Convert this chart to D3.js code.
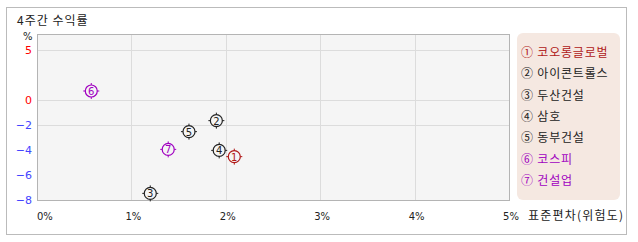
<!DOCTYPE html>
<html><head><meta charset="utf-8">
<script src="https://cdn.jsdelivr.net/npm/d3@7/dist/d3.min.js"></script>
<style>body{margin:0;background:#fff;}svg{display:block;font-family:"DejaVu Sans","Noto Sans CJK KR",sans-serif;}</style>
</head><body><svg id="c" width="638" height="242"></svg>
<script>
const names = ["코오롱글로벌","아이콘트롤스","두산건설","삼호","동부건설","코스피","건설업"];
const symbols = ["①","②","③","④","⑤","⑥","⑦"];
const risk = [2.09, 1.90, 1.20, 1.93, 1.61, 0.575, 1.39];   // 표준편차 %
const ret = [-4.53, -1.65, -7.47, -4.03, -2.53, 0.9, -3.95]; // 4주간 수익률 %
const colors = ["#b01818","#222222","#222222","#222222","#222222","#a000c0","#a000c0"];
const xTicks = [0,1,2,3,4,5];
const yTicks = [5,0,-2,-4,-6,-8];
const yGrid = [5,0,-2];

const svg = d3.select("#c");
const L=37,R=509,T=34,B=200;
const x = d3.scaleLinear().domain([0,5]).range([L,R]);
const y = d3.scaleLinear().domain([-8,0,6.6]).range([B,100,T]);
const font = '"Noto Sans CJK KR",sans-serif';

svg.append("rect").attr("x",6.5).attr("y",7.5).attr("width",620).attr("height",227).attr("fill","#fff").attr("stroke","#bbb");
svg.append("text").attr("x",17).attr("y",25).attr("font-size",12).attr("letter-spacing",1).attr("font-family",font).attr("fill","#222").text("4주간 수익률");

svg.append("rect").attr("x",L).attr("y",T).attr("width",R-L).attr("height",B-T).attr("fill","#f5f5f5");
const g = svg.append("g");
g.selectAll("line.v").data(xTicks.slice(1,-1)).join("line").attr("x1",d=>Math.round(x(d))+0.5).attr("x2",d=>Math.round(x(d))+0.5).attr("y1",T).attr("y2",B).attr("stroke","#dcdcdc");
g.selectAll("line.h").data(yGrid).join("line").attr("y1",d=>Math.round(y(d))+0.5).attr("y2",d=>Math.round(y(d))+0.5).attr("x1",L).attr("x2",R).attr("stroke","#dcdcdc");
svg.append("rect").attr("x",L+0.5).attr("y",T+0.5).attr("width",R-L).attr("height",B-T).attr("fill","none").attr("stroke","#b4b4b4");

svg.append("text").attr("x",23).attr("y",40).attr("font-size",10).attr("fill","#222").text("%");
svg.selectAll("text.yt").data(yTicks).join("text").attr("x",32).attr("y",d=>y(d)+4).attr("text-anchor","end")
  .attr("font-size",11).attr("fill",d=>d>=0?"#ff0000":"#4444ff").text(d=>d<0?"−"+Math.abs(d):d);
svg.selectAll("text.xt").data(xTicks).join("text").attr("x",d=>d===0?L:x(d)+2).attr("y",220)
  .attr("text-anchor",d=>d===0?"start":"middle").attr("font-size",10).attr("fill","#222").text(d=>d+"%");
svg.append("text").attr("x",528).attr("y",220).attr("font-size",12).attr("letter-spacing",1.2).attr("font-family",font).attr("fill","#222").text("표준편차(위험도)");

const pts = svg.selectAll("g.pt").data(names.map((n,i)=>i)).join("g").attr("transform",i=>`translate(${x(risk[i])},${y(ret[i])})`);
pts.append("circle").attr("r",6).attr("fill","none").attr("stroke",i=>colors[i]).attr("stroke-width",1.2);
pts.append("path").attr("d","M0,-6V-8M0,6V8M-6,0H-8M6,0H8").attr("stroke",i=>colors[i]).attr("stroke-width",1);
pts.append("text").attr("y",4).attr("text-anchor","middle").attr("font-size",10).attr("fill",i=>colors[i]).text(i=>i+1);

svg.append("rect").attr("x",517).attr("y",33).attr("width",103).attr("height",167).attr("rx",6).attr("fill","#f5e8e1");
svg.selectAll("text.lg").data(names.map((n,i)=>i)).join("text").attr("x",521).attr("y",i=>57+i*21.3)
  .attr("font-size",12).attr("letter-spacing",0.8).attr("font-family",font).attr("fill",i=>colors[i]).text(i=>symbols[i]+" "+names[i]);
</script></body></html>
